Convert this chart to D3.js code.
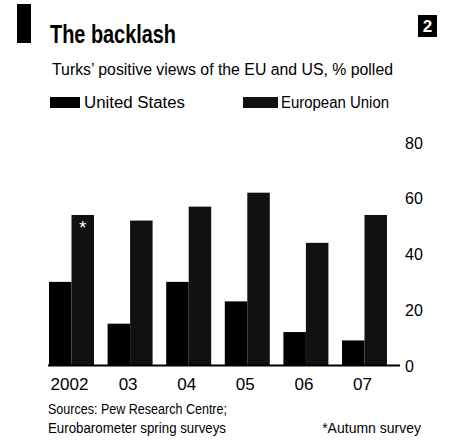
<!DOCTYPE html>
<html>
<head>
<meta charset="utf-8">
<script src="https://cdn.jsdelivr.net/npm/d3@7"></script>
<style>
  body { margin: 0; background: #fff; }
  text { font-family: "Liberation Sans Narrow", "Liberation Sans", sans-serif; fill: #000; }
</style>
</head>
<body>
<div class="canvas"></div>
<script>
const w = 458;
const h = 445;

const years = ["2002", "03", "04", "05", "06", "07"];
const usValues = [30, 15, 30, 23, 12, 9];
const euValues = [54, 52, 57, 62, 44, 54];
const seriesNames = ["United States", "European Union"];
const yTicks = [0, 20, 40, 60, 80];

const colors = d3.scaleOrdinal().domain(seriesNames).range(["#000", "#111"]);

const svg = d3.select(".canvas")
  .append("svg")
  .attr("width", w)
  .attr("height", h);

svg.append("rect").attr("width", w).attr("height", h).attr("fill", "#fff");

// header
svg.append("rect").attr("x", 17).attr("y", 4).attr("width", 14).attr("height", 39).attr("fill", "#000");
svg.append("text").attr("x", 50).attr("y", 43)
  .style("font-size", "25px").style("font-weight", "bold")
  .attr("textLength", 126).attr("lengthAdjust", "spacingAndGlyphs")
  .text("The backlash");
svg.append("text").attr("x", 52).attr("y", 75)
  .style("font-size", "16px")
  .attr("textLength", 341).attr("lengthAdjust", "spacingAndGlyphs")
  .text("Turks\u2019 positive views of the EU and US, % polled");
svg.append("rect").attr("x", 418).attr("y", 15).attr("width", 19).attr("height", 22).attr("fill", "#000");
svg.append("text").attr("x", 427.5).attr("y", 32)
  .style("font-size", "17px").style("font-weight", "bold")
  .style("fill", "#fff").attr("text-anchor", "middle")
  .text("2");

// legend
const legendX = [50, 243];
const legend = svg.selectAll(".legend-item")
  .data(seriesNames)
  .enter().append("g")
  .attr("class", "legend-item")
  .attr("transform", (d, i) => "translate(" + legendX[i] + ",97)");
legend.append("rect")
  .attr("width", (d, i) => i === 0 ? 30 : 35)
  .attr("height", 11)
  .attr("fill", d => colors(d));
legend.append("text")
  .attr("x", (d, i) => i === 0 ? 34 : 38)
  .attr("y", 11)
  .style("font-size", "16px")
  .attr("textLength", (d, i) => i === 0 ? 101 : 108)
  .attr("lengthAdjust", "spacingAndGlyphs")
  .text(d => d);

// scales
const x = d3.scaleBand().domain(years).range([49, 387]).paddingInner(0.232).paddingOuter(0);
const xSub = d3.scaleBand().domain(seriesNames).range([0, x.bandwidth()]);
const y = d3.scaleLinear().domain([0, 80]).range([365.5, 142.5]);

const table = years.map((yr, i) => ({ year: yr, values: [
  { key: seriesNames[0], value: usValues[i] },
  { key: seriesNames[1], value: euValues[i] }
]}));

const groups = svg.selectAll(".group")
  .data(table)
  .enter().append("g")
  .attr("class", "group")
  .attr("transform", d => "translate(" + x(d.year) + ",0)");

groups.selectAll("rect")
  .data(d => d.values)
  .enter().append("rect")
  .attr("x", d => xSub(d.key))
  .attr("width", xSub.bandwidth())
  .attr("y", d => y(d.value))
  .attr("height", d => y(0) - y(d.value))
  .attr("fill", d => colors(d.key));

// autumn survey marker on 2002 EU bar
svg.append("text")
  .attr("x", x("2002") + xSub(seriesNames[1]) + xSub.bandwidth() / 2)
  .attr("y", y(euValues[0]) + 19)
  .attr("text-anchor", "middle")
  .style("font-size", "18px").style("fill", "#fff")
  .text("*");

// baseline
svg.append("line")
  .attr("x1", 48).attr("x2", 400)
  .attr("y1", y(0)).attr("y2", y(0))
  .attr("stroke", "#000").attr("stroke-width", 2);

// right axis
const yAxis = d3.axisRight(y).tickValues(yTicks).tickSize(0).tickPadding(0);
const yG = svg.append("g").attr("transform", "translate(405,0)").call(yAxis);
yG.select(".domain").remove();
yG.selectAll("text").style("font-size", "16px").attr("x", 0).attr("dy", "0.35em");

// x axis labels
const xAxis = d3.axisBottom(x).tickSize(0).tickPadding(0);
const xG = svg.append("g").attr("transform", "translate(-2,378)").call(xAxis);
xG.select(".domain").remove();
xG.selectAll("text").style("font-size", "17px").attr("dy", "0.71em");

// footnotes
svg.append("text").attr("x", 48).attr("y", 414).style("font-size", "14px")
  .attr("textLength", 179).attr("lengthAdjust", "spacingAndGlyphs")
  .text("Sources: Pew Research Centre;");
svg.append("text").attr("x", 48).attr("y", 433).style("font-size", "14px")
  .attr("textLength", 178).attr("lengthAdjust", "spacingAndGlyphs")
  .text("Eurobarometer spring surveys");
svg.append("text").attr("x", 421).attr("y", 433).attr("text-anchor", "end").style("font-size", "14px")
  .text("*Autumn survey");
</script>
</body>
</html>
